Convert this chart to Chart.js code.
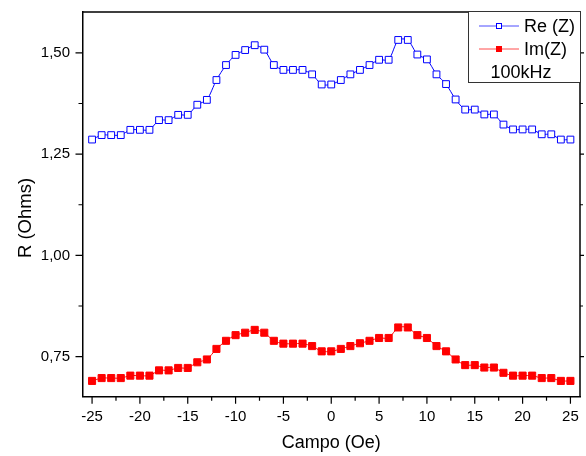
<!DOCTYPE html>
<html>
<head>
<meta charset="utf-8">
<script src="https://cdn.jsdelivr.net/npm/chart.js@4"></script>
<style>
  html, body { margin: 0; padding: 0; background: #fff; }
  #wrap { width: 586px; height: 456px; position: relative; }
</style>
</head>
<body>
<div id="wrap"><canvas id="c" width="586" height="456"></canvas></div>
<script>
// ---- data ----
const campo = [-25,-24,-23,-22,-21,-20,-19,-18,-17,-16,-15,-14,-13,-12,-11,-10,-9,-8,-7,-6,-5,-4,-3,-2,-1,
               0,1,2,3,4,5,6,7,8,9,10,11,12,13,14,15,16,17,18,19,20,21,22,23,24,25];
const reZ = [1.286,1.297,1.297,1.297,1.310,1.310,1.310,1.334,1.334,1.347,1.347,1.372,1.384,1.433,1.470,1.495,1.507,1.519,1.508,1.470,1.458,1.458,1.458,1.447,1.422,
             1.422,1.433,1.447,1.458,1.470,1.483,1.483,1.532,1.532,1.496,1.484,1.447,1.423,1.385,1.360,1.360,1.348,1.348,1.323,1.311,1.311,1.311,1.299,1.299,1.286,1.286];
const imZ = [0.690,0.697,0.697,0.697,0.703,0.703,0.703,0.716,0.716,0.722,0.722,0.736,0.743,0.769,0.789,0.803,0.809,0.816,0.809,0.789,0.782,0.782,0.782,0.776,0.763,
             0.763,0.769,0.776,0.783,0.789,0.796,0.796,0.822,0.822,0.803,0.796,0.776,0.763,0.743,0.729,0.729,0.723,0.723,0.710,0.703,0.703,0.703,0.697,0.697,0.690,0.690];
const xMajorTicks = [-25,-20,-15,-10,-5,0,5,10,15,20,25];
const xMinorTicks = [-22.5,-17.5,-12.5,-7.5,-2.5,2.5,7.5,12.5,17.5,22.5];
const yMajorTicks = [0.75,1.00,1.25,1.50];
const yMinorTicks = [0.875,1.125,1.375];
const seriesNames = ['Re (Z)', 'Im(Z)'];
const legendNote = '100kHz';
const xTitle = 'Campo (Oe)';
const yTitle = 'R (Ohms)';

const FONT = '"Liberation Sans", Arial, sans-serif';
const BLUE = '#0000FF';
const RED = '#FF0000';

const framePlugin = {
  id: 'frame',
  afterDraw(chart) {
    const ctx = chart.ctx;
    const a = chart.chartArea;
    const xs = chart.scales.x, ys = chart.scales.y;
    ctx.save();
    ctx.strokeStyle = '#000';
    ctx.lineWidth = 1.5;
    ctx.beginPath();
    ctx.moveTo(a.left, a.top); ctx.lineTo(a.right, a.top); ctx.lineTo(a.right, a.bottom);
    ctx.stroke();
    ctx.lineWidth = 1.2;
    ctx.beginPath();
    xMajorTicks.forEach(v => { const p = xs.getPixelForValue(v); ctx.moveTo(p, a.bottom); ctx.lineTo(p, a.bottom + 7); });
    xMinorTicks.forEach(v => { const p = xs.getPixelForValue(v); ctx.moveTo(p, a.bottom); ctx.lineTo(p, a.bottom + 4); });
    yMajorTicks.forEach(v => { const p = ys.getPixelForValue(v); ctx.moveTo(a.left, p); ctx.lineTo(a.left - 7, p);
                                ctx.moveTo(a.right, p); ctx.lineTo(a.right + 4, p); });
    yMinorTicks.forEach(v => { const p = ys.getPixelForValue(v); ctx.moveTo(a.left, p); ctx.lineTo(a.left - 4, p);
                                ctx.moveTo(a.right, p); ctx.lineTo(a.right + 3, p); });
    ctx.stroke();
    ctx.fillStyle = '#000';
    ctx.font = '18.5px ' + FONT;
    ctx.textAlign = 'center';
    ctx.textBaseline = 'middle';
    ctx.translate(26, 218);
    ctx.rotate(-Math.PI / 2);
    ctx.fillText(yTitle, 0, 0);
    ctx.restore();

    ctx.save();
    const bx = 468.5, by = 11.5, bw = 112, bh = 71;
    ctx.fillStyle = '#fff';
    ctx.fillRect(bx, by, bw, bh);
    ctx.strokeStyle = '#333';
    ctx.lineWidth = 1;
    ctx.strokeRect(bx, by, bw, bh);
    const rows = [26, 49];
    chart.data.datasets.forEach((ds, i) => {
      const y = rows[i];
      ctx.strokeStyle = ds.borderColor;
      ctx.globalAlpha = 0.7;
      ctx.lineWidth = 1;
      ctx.beginPath(); ctx.moveTo(479, y); ctx.lineTo(519, y); ctx.stroke();
      ctx.globalAlpha = 1;
      ctx.fillStyle = ds.pointBackgroundColor;
      ctx.fillRect(496.5, y - 2.5, 5, 5);
      ctx.strokeStyle = ds.pointBorderColor;
      ctx.strokeRect(496.5, y - 2.5, 5, 5);
      ctx.fillStyle = '#000';
      ctx.font = '18px ' + FONT;
      ctx.textAlign = 'left';
      ctx.textBaseline = 'middle';
      ctx.fillText(ds.label, 524, y + 1);
    });
    ctx.textAlign = 'center';
    ctx.fillText(legendNote, 521, 73);
    ctx.restore();
  }
};

new Chart(document.getElementById('c'), {
  type: 'line',
  data: {
    datasets: [
      {
        label: seriesNames[0],
        data: campo.map((x, i) => ({ x: x, y: reZ[i] })),
        borderColor: BLUE,
        borderWidth: 1,
        pointStyle: 'rect',
        pointRadius: 4.8,
        pointBorderWidth: 1,
        pointBackgroundColor: '#fff',
        pointBorderColor: BLUE,
        tension: 0.25,
        fill: false
      },
      {
        label: seriesNames[1],
        data: campo.map((x, i) => ({ x: x, y: imZ[i] })),
        borderColor: RED,
        borderWidth: 1,
        pointStyle: 'rect',
        pointRadius: 5,
        pointBorderWidth: 1,
        pointBackgroundColor: RED,
        pointBorderColor: RED,
        tension: 0.25,
        fill: false
      }
    ]
  },
  options: {
    responsive: false,
    animation: false,
    devicePixelRatio: 1,
    layout: { padding: { left: 0, top: 12, right: 5, bottom: 0 } },
    plugins: { legend: { display: false }, tooltip: { enabled: false } },
    scales: {
      x: {
        type: 'linear',
        min: -26, max: 26,
        afterBuildTicks: s => { s.ticks = xMajorTicks.map(v => ({ value: v })); },
        afterFit: s => { s.height = 59.3; s.paddingLeft = 0; s.paddingRight = 0; s.paddingTop = 0; s.paddingBottom = 0; },
        grid: { display: false, drawTicks: false },
        border: { display: true, color: '#000', width: 1.5 },
        ticks: {
          padding: 11,
          color: '#000',
          font: { family: FONT, size: 15 },
          maxRotation: 0,
          autoSkip: false,
          callback: v => String(v)
        },
        title: {
          display: true, text: xTitle, color: '#000',
          font: { family: FONT, size: 18 },
          padding: { top: 0, bottom: 2 }
        }
      },
      y: {
        type: 'linear',
        min: 0.651, max: 1.601,
        afterBuildTicks: s => { s.ticks = yMajorTicks.map(v => ({ value: v })); },
        afterFit: s => { s.width = 82.5; s.paddingTop = 0; s.paddingBottom = 0; s.paddingLeft = 0; s.paddingRight = 0; },
        grid: { display: false, drawTicks: false },
        border: { display: true, color: '#000', width: 1.5 },
        ticks: {
          padding: 12.5,
          color: '#000',
          font: { family: FONT, size: 15 },
          autoSkip: false,
          callback: v => v.toFixed(2).replace('.', ',')
        }
      }
    }
  },
  plugins: [framePlugin]
});
</script>
</body>
</html>
